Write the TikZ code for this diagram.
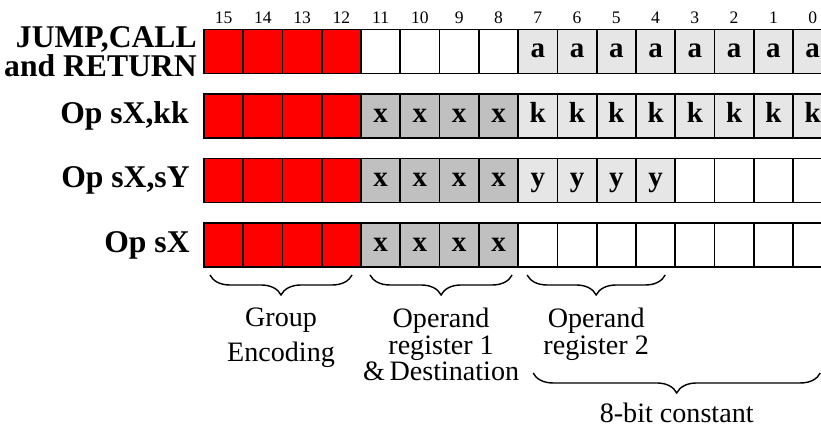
\documentclass[tikz,border=0pt]{standalone}
\usepackage{fontspec}
\setmainfont{Liberation Serif}
\usetikzlibrary{positioning, decorations.pathreplacing}

\definecolor{regdark}{HTML}{C0C0C0}
\definecolor{constlight}{HTML}{E6E6E6}

\tikzset{
    cell/.style={draw, line width=1pt, minimum width=0.785cm, minimum height=0.88cm,
        inner sep=0pt, outer sep=0pt, text height=1.6ex, text depth=0pt,
        font=\bfseries\fontsize{16.5}{16.5}\selectfont},
    opcode/.style={cell, fill=red},
    reg/.style={cell, fill=regdark},
    const/.style={cell, fill=constlight},
    blank/.style={cell, fill=white},
    bitnum/.style={inner sep=0pt, font=\fontsize{10}{11}\selectfont},
    rowlabel/.style={inner sep=0pt, align=right, font=\bfseries\fontsize{18}{15}\selectfont},
    brace/.style={decorate, decoration={brace, mirror, amplitude=0.4cm}, line width=0.8pt},
    note/.style={inner sep=0pt, align=center, font=\fontsize{16}{15.3}\selectfont}
}

\begin{document}
\begin{tikzpicture}[x=0.02cm, y=-0.02cm]
        \useasboundingbox (0,0) rectangle (821,429);

        % bit numbers
        \foreach \b in {0,...,15}
                \node[bitnum] (n\b) at ({223.6+39.27*(15-\b)},18) {\b};

        % group encoding nibble, same in every row
        \foreach \r/\y in {jmp/51.5, kk/116, sy/180.5, sx/245}
                \foreach \b in {15,...,12}
                        \node[opcode] (\r\b) at ({223.6+39.27*(15-\b)},\y) {};

        % JUMP, CALL and RETURN
        \foreach \b in {11,...,8}
                \node[blank] (jmp\b) at ({223.6+39.27*(15-\b)},51.5) {};
        \foreach \b in {7,...,0}
                \node[const] (jmp\b) at ({223.6+39.27*(15-\b)},51.5) {a};

        % Op sX,kk
        \foreach \b in {11,...,8}
                \node[reg] (kk\b) at ({223.6+39.27*(15-\b)},116) {x};
        \foreach \b in {7,...,0}
                \node[const] (kk\b) at ({223.6+39.27*(15-\b)},116) {k};

        % Op sX,sY
        \foreach \b in {11,...,8}
                \node[reg] (sy\b) at ({223.6+39.27*(15-\b)},180.5) {x};
        \foreach \b in {7,...,4}
                \node[const] (sy\b) at ({223.6+39.27*(15-\b)},180.5) {y};
        \foreach \b in {3,...,0}
                \node[blank] (sy\b) at ({223.6+39.27*(15-\b)},180.5) {};

        % Op sX
        \foreach \b in {11,...,8}
                \node[reg] (sx\b) at ({223.6+39.27*(15-\b)},245) {x};
        \foreach \b in {7,...,0}
                \node[blank] (sx\b) at ({223.6+39.27*(15-\b)},245) {};

        % row labels
        \node[rowlabel] (ljmp) [left=0.14cm of jmp15] {JUMP,CALL\\and RETURN};
        \node[rowlabel] (lkk) [left=0.3cm of kk15] {Op sX,kk};
        \node[rowlabel] (lsy) [left=0.28cm of sy15] {Op sX,sY};
        \node[rowlabel] (lsx) [left=0.28cm of sx15] {Op sX};

        % field braces
        \draw[brace] ([xshift=0.12cm,yshift=-0.16cm]sx15.south west)
                -- ([xshift=-0.18cm,yshift=-0.16cm]sx12.south east)
                node[note, midway, below=0.64cm] (group) {Group\\[4.5pt]Encoding};
        \draw[brace] ([xshift=0.18cm,yshift=-0.16cm]sx11.south west)
                -- ([xshift=-0.12cm,yshift=-0.16cm]sx8.south east)
                node[note, midway, below=0.64cm] (opreg1) {Operand\\register 1\\\&\,Destination};
        \draw[brace] ([xshift=0.18cm,yshift=-0.16cm]sx7.south west)
                -- ([xshift=-0.2cm,yshift=-0.16cm]sx4.south east)
                node[note, midway, below=0.64cm] (opreg2) {Operand\\register 2};
        \draw[brace] ([xshift=0.3cm,yshift=-2.12cm]sx7.south west)
                -- ([xshift=-0.24cm,yshift=-2.12cm]sx0.south east)
                node[note, midway, below=0.58cm] (const) {8-bit constant};
\end{tikzpicture}
\end{document}
